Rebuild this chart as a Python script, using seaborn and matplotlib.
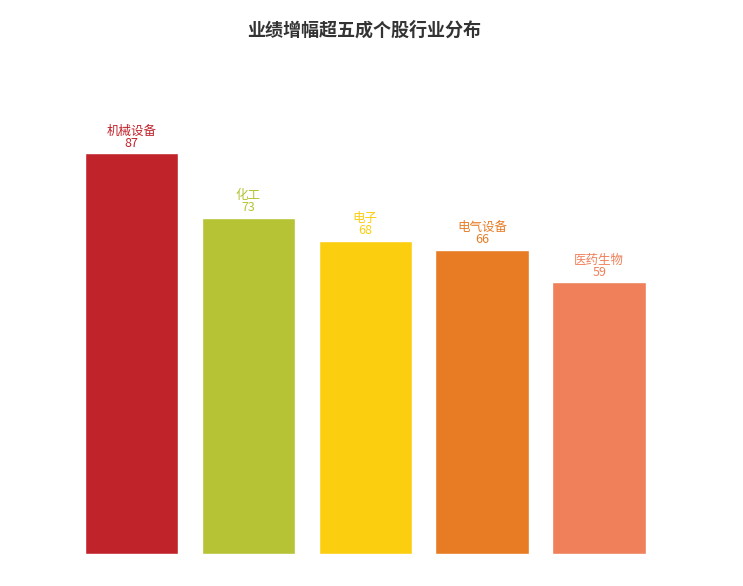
import matplotlib
matplotlib.use("Agg")
import matplotlib.pyplot as plt
import seaborn as sns
import pandas as pd

# data
industries = ["机械设备", "化工", "电子", "电气设备", "医药生物"]
counts = [87, 73, 68, 66, 59]
colors = ["#C1232B", "#B5C334", "#FCCE10", "#E87C25", "#F0805A"]

sns.set_style("white")
plt.rcParams['font.family'] = ['Noto Sans CJK SC', 'DejaVu Sans']

df = pd.DataFrame({"industry": industries, "count": counts})

fig = plt.figure(figsize=(7.43, 5.86), dpi=100)
ax = fig.add_axes([0.0983, 0.0546, 0.7867, 0.7865])
sns.barplot(data=df, x="industry", y="count", hue="industry",
            palette=colors, legend=False, width=0.8, saturation=1, ax=ax)

ax.set_xlim(-0.5, 4.5)
ax.set_ylim(0, 100)

# labels above each bar
for i, (name, v) in enumerate(zip(industries, counts)):
    ax.annotate(f"{name}\n{v}", xy=(i, v), xytext=(0, 2.5), textcoords="offset points",
                ha="center", va="bottom", fontsize=9, color=colors[i],
                linespacing=0.9)

ax.set_xlabel("")
ax.set_ylabel("")
ax.set_xticks([])
ax.set_yticks([])
sns.despine(ax=ax, left=True, bottom=True)

fig.text(0.49, 0.948, "业绩增幅超五成个股行业分布", ha="center", va="center",
         fontsize=13, fontweight="bold", color="#333333")

fig.savefig("out.png", dpi=100)
